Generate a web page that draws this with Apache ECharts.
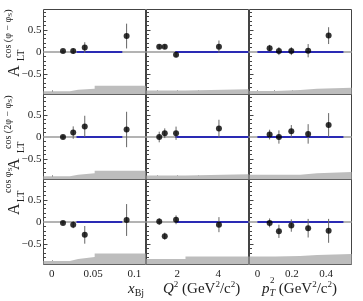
<!DOCTYPE html>
<html><head><meta charset="utf-8">
<script src="https://cdn.jsdelivr.net/npm/echarts@6/dist/echarts.min.js"></script>
<style>html,body{margin:0;padding:0;background:#fff}#c{width:363px;height:301px}</style>
</head><body><div id="c"></div>
<script>
// ---------- data ----------
const xBj = [0.0136, 0.026, 0.040, 0.0907];
const q2 = [1.12, 1.39, 1.94, 4.03];
const pT2 = [0.071, 0.125, 0.197, 0.295, 0.414];

// rows: cos(phi-phiS), cos(2phi-phiS), cos phiS
const aXbj = [[0.02, 0.02, 0.10, 0.36], [0.0, 0.10, 0.24, 0.17], [-0.02, -0.06, -0.29, 0.045]];
const eXbj = [[0.03, 0.06, 0.12, 0.28], [0.04, 0.14, 0.24, 0.40], [0.04, 0.08, 0.20, 0.36]];
const aQ2 = [[0.12, 0.12, -0.06, 0.12], [0.0, 0.085, 0.085, 0.19], [0.01, -0.32, 0.05, -0.06]];
const eQ2 = [[0.05, 0.05, 0.06, 0.14], [0.12, 0.11, 0.15, 0.20], [0.075, 0.08, 0.10, 0.17]];
const aPT2 = [[0.086, 0.02, 0.02, 0.03, 0.37], [0.055, 0.0, 0.13, 0.07, 0.27], [-0.02, -0.21, -0.08, -0.14, -0.20]];
const ePT2 = [[0.075, 0.09, 0.09, 0.15, 0.19], [0.11, 0.15, 0.14, 0.22, 0.27], [0.10, 0.15, 0.14, 0.21, 0.27]];

// systematic bands (bin edges and band tops)
const xBjEdges = [-0.01, 0.022, 0.032, 0.052, 0.1136];
const q2Edges = [0.5, 2.4, 5.47];
const pT2Edges = [-0.046, 0.104, 0.249, 0.347, 0.547];
const bXbj = [[-0.885, -0.855, -0.83, -0.76], [-0.885, -0.85, -0.82, -0.76], [-0.88, -0.835, -0.79, -0.71]];
const bQ2 = [[-0.87, -0.84], [-0.87, -0.84], [-0.835, -0.78]];
const bPT2 = [[-0.88, -0.86, -0.83, -0.81], [-0.85, -0.85, -0.82, -0.79], [-0.78, -0.77, -0.745, -0.72]];

// model curves (zero) ranges
const curveXbj = [0.030, 0.0855];
const curveQ2 = [1.9, 5.47];
const curvePT2 = [0.0, 0.5];

// axes
const yRange = [-0.96, 0.96];
const yMajor = [-0.5, 0, 0.5];
const yMinor = [-0.9, -0.8, -0.7, -0.6, -0.4, -0.3, -0.2, -0.1, 0.1, 0.2, 0.3, 0.4, 0.6, 0.7, 0.8, 0.9];
const xBjRange = [-0.01, 0.1136];
const xBjLabels = [0, 0.05, 0.1];
const xBjMinor = [0.01, 0.02, 0.03, 0.04, 0.06, 0.07, 0.08, 0.09, 0.11];
const q2Range = [0.5, 5.47];
const q2Labels = [2, 4];
const q2Major = [1, 2, 3, 4, 5];
const q2Minor = [0.5, 1.5, 2.5, 3.5, 4.5];
const pT2Range = [-0.046, 0.547];
const pT2Labels = [0, 0.2, 0.4];
const pT2Major = [0, 0.1, 0.2, 0.3, 0.4, 0.5];
const pT2Minor = [0.05, 0.15, 0.25, 0.35, 0.45];

// ---------- layout ----------
const FONT = "'Liberation Serif','DejaVu Serif','Times New Roman',serif";
const colLeft = [43.5, 146.5, 249.5];
const colW = 102;
const rowTop = [9.5, 94.5, 179.5];
const rowH = 85;

const cols = [
  {x: xBj, a: aXbj, e: eXbj, range: xBjRange, major: xBjLabels, minor: xBjMinor, labels: xBjLabels, edges: xBjEdges, bands: bXbj, curve: curveXbj},
  {x: q2, a: aQ2, e: eQ2, range: q2Range, major: q2Major, minor: q2Minor, labels: q2Labels, edges: q2Edges, bands: bQ2, curve: curveQ2},
  {x: pT2, a: aPT2, e: ePT2, range: pT2Range, major: pT2Major, minor: pT2Minor, labels: pT2Labels, edges: pT2Edges, bands: bPT2, curve: curvePT2}
];

const fmt = v => v === 0 ? '0' : (v < 0 ? '\u2212' + String(-v) : String(v));

const grid = [], xAxis = [], yAxis = [], series = [];
function errRender(params, api) {
  const x = api.value(0), y = api.value(1), e = api.value(2);
  const p1 = api.coord([x, y + e]), p2 = api.coord([x, y - e]);
  return {type: 'line', shape: {x1: p1[0], y1: p1[1], x2: p2[0], y2: p2[1]}, style: {stroke: '#666', lineWidth: 1}};
}
for (let r = 0; r < 3; r++) {
  for (let c = 0; c < 3; c++) {
    const g = r * 3 + c;
    const col = cols[c];
    grid.push({left: colLeft[c], top: rowTop[r], width: colW, height: rowH, show: true, borderColor: '#444', borderWidth: 1, backgroundColor: 'transparent'});
    const xBase = {type: 'value', gridIndex: g, position: 'bottom', min: col.range[0], max: col.range[1], splitLine: {show: false},
      axisLine: {show: false, onZero: false}};
    xAxis.push(Object.assign({}, xBase, {
      axisTick: {show: true, inside: true, length: 4, customValues: col.major, lineStyle: {color: '#444'}},
      axisLabel: {show: r === 2, customValues: col.labels, formatter: fmt, margin: 4, fontSize: 11, fontFamily: FONT, color: '#222'}
    }));
    xAxis.push(Object.assign({}, xBase, {
      axisTick: {show: true, inside: true, length: 2.5, customValues: col.minor, lineStyle: {color: '#444'}},
      axisLabel: {show: false}
    }));
    const yBase = {type: 'value', gridIndex: g, position: 'left', min: yRange[0], max: yRange[1], splitLine: {show: false},
      axisLine: {show: false, onZero: false}};
    yAxis.push(Object.assign({}, yBase, {
      axisTick: {show: true, inside: true, length: 4, customValues: yMajor, lineStyle: {color: '#444'}},
      axisLabel: {show: c === 0, customValues: yMajor, formatter: fmt, margin: 2, fontSize: 11, fontFamily: FONT, color: '#222'}
    }));
    yAxis.push(Object.assign({}, yBase, {
      axisTick: {show: true, inside: true, length: 2.5, customValues: yMinor, lineStyle: {color: '#444'}},
      axisLabel: {show: false}
    }));
    const xi = 2 * g, yi = 2 * g;
    // band
    const bd = [];
    for (let k = 0; k < col.bands[r].length; k++) bd.push([col.edges[k], col.bands[r][k]]);
    bd.push([col.edges[col.edges.length - 1], col.bands[r][col.bands[r].length - 1]]);
    series.push({type: 'line', xAxisIndex: xi, yAxisIndex: yi, data: bd, step: 'end', symbol: 'none', silent: true,
      lineStyle: {width: 0}, areaStyle: {color: '#bdbdbd', opacity: 1, origin: 'start'}, z: 1});
    // zero line
    series.push({type: 'line', xAxisIndex: xi, yAxisIndex: yi, data: [[col.range[0], 0], [col.range[1], 0]], symbol: 'none', silent: true,
      lineStyle: {color: '#b3b3b3', width: 1.8}, z: 2});
    // model curve
    series.push({type: 'line', xAxisIndex: xi, yAxisIndex: yi, data: [[col.curve[0], 0], [col.curve[1], 0]], symbol: 'none', silent: true,
      lineStyle: {color: '#2a2ab4', width: 2}, z: 3});
    // error bars
    series.push({type: 'custom', xAxisIndex: xi, yAxisIndex: yi, renderItem: errRender, silent: true, z: 4,
      data: col.x.map((v, k) => [v, col.a[r][k], col.e[r][k]])});
    // points
    series.push({type: 'scatter', xAxisIndex: xi, yAxisIndex: yi, symbol: 'circle', symbolSize: 6, silent: true, z: 5,
      itemStyle: {color: '#000'}, data: col.x.map((v, k) => [v, col.a[r][k]])});
  }
}

// ---------- titles ----------
const supTexts = ['cos (\u03c6 \u2212 \u03c6{s|S})', 'cos (2\u03c6 \u2212 \u03c6{s|S})', 'cos \u03c6{s|S}'];
const aY = [77, 170, 215], ltY = [61, 153, 202], supY = [58, 149, 193];
const graphic = [];
const R = Math.PI / 2;
for (let r = 0; r < 3; r++) {
  graphic.push({type: 'text', x: 15, y: aY[r], rotation: R, style: {text: 'A', fontSize: 16, fontFamily: FONT, fill: '#222', align: 'left', verticalAlign: 'middle'}});
  graphic.push({type: 'text', x: 21, y: ltY[r], rotation: R, style: {text: 'LT', fontSize: 10, fontFamily: FONT, fill: '#222', align: 'left', verticalAlign: 'middle'}});
  graphic.push({type: 'text', x: 8, y: supY[r], rotation: R, style: {text: supTexts[r], fontSize: 10, fontFamily: FONT, fill: '#222', align: 'left', verticalAlign: 'middle',
    rich: {s: {fontSize: 7, fontFamily: FONT, fill: '#222', padding: [5, 0, 0, 0], lineHeight: 7}}}});
}
const rich = {
  i: {fontStyle: 'italic', fontSize: 15, fontFamily: FONT, lineHeight: 18, fill: '#222'},
  n: {fontSize: 15, fontFamily: FONT, lineHeight: 18, fill: '#222'},
  sup: {fontSize: 9, fontFamily: FONT, lineHeight: 10, padding: [0, 0, 8, 0], fill: '#222'},
  sub: {fontSize: 10, fontFamily: FONT, lineHeight: 10, padding: [8, 0, 0, 0], fill: '#222'},
  subi: {fontSize: 10, fontStyle: 'italic', fontFamily: FONT, lineHeight: 10, padding: [8, 0, 0, 0], fill: '#222'}
};
graphic.push({type: 'text', x: 128, y: 289, style: {text: '{i|x}{sub|Bj}', rich: rich, align: 'left', verticalAlign: 'middle'}});
graphic.push({type: 'text', x: 163, y: 289, style: {text: '{i|Q}{sup|2}{n| (GeV}{sup|2}{n|/c}{sup|2}{n|)}', rich: rich, align: 'left', verticalAlign: 'middle'}});
graphic.push({type: 'text', x: 262, y: 289, style: {text: '{i|p}{subi|T}{n| (GeV}{sup|2}{n|/c}{sup|2}{n|)}', rich: rich, align: 'left', verticalAlign: 'middle'}});
graphic.push({type: 'text', x: 270, y: 281, style: {text: '2', fontSize: 9, fontFamily: FONT, fill: '#222', align: 'left', verticalAlign: 'middle'}});

const chart = echarts.init(document.getElementById('c'), null, {renderer: 'canvas'});
chart.setOption({animation: false, backgroundColor: '#fff', grid, xAxis, yAxis, series, graphic});
</script></body></html>
